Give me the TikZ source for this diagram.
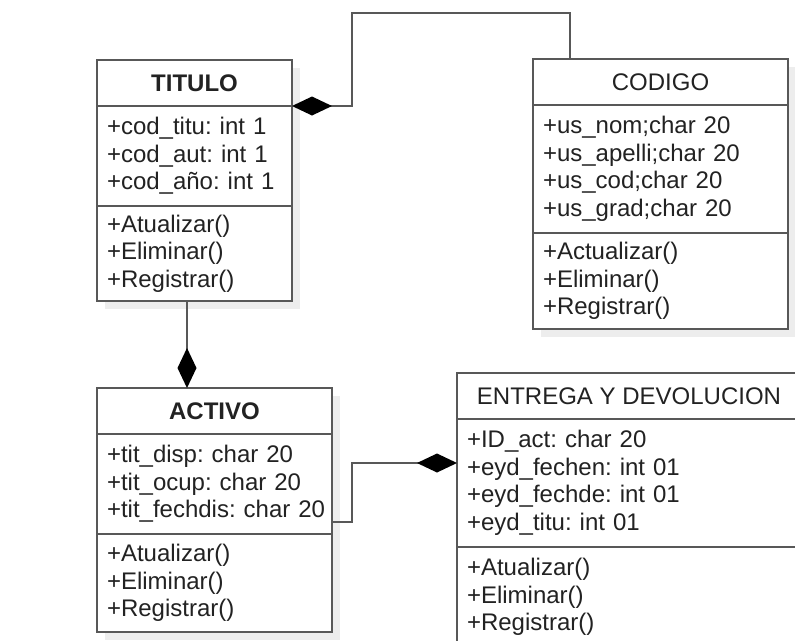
\documentclass[tikz,border=0pt]{standalone}
\usepackage{fontspec}
\setmainfont{Liberation Sans}
\frenchspacing
\usetikzlibrary{arrows.meta, positioning, calc, shadows}
\definecolor{linegray}{RGB}{88,88,88}
\definecolor{textgray}{RGB}{34,34,34}
\tikzset{
    classshadow/.style={drop shadow={shadow xshift=8pt, shadow yshift=-8pt, fill=black, opacity=0.07}},
    classhead/.style={rectangle, draw=linegray, line width=2pt, fill=white, minimum width=#1, minimum height=46pt, inner sep=0pt, outer sep=0pt, text=textgray, font=\fontsize{24}{27.5}\selectfont, classshadow},
    members/.style 2 args={rectangle, draw=linegray, line width=2pt, fill=white, text width=#1, minimum height=#2, inner xsep=10pt, inner ysep=0pt, outer sep=0pt, align=left, text=textgray, font=\fontsize{24}{27.5}\selectfont, classshadow},
    comp/.style={draw=linegray, line width=2pt, -{Diamond[length=40pt, width=19pt, color=black, fill=black]}},
}

\begin{document}
\begin{tikzpicture}[x=1pt, y=-1pt]
        \useasboundingbox (0,0) rectangle (795,640);

        % Classes
        \node [classhead=195pt, font=\fontsize{24}{27.5}\selectfont\bfseries, anchor=north west] (tituloHead) at (97,60) {TITULO};
        \node [members={175pt}{100pt}, below=0pt of tituloHead] (tituloAttr) {+cod\_titu: int 1\\+cod\_aut: int 1\\+cod\_año: int 1};
        \node [members={175pt}{95pt}, below=0pt of tituloAttr] (tituloMeth) {+Atualizar()\\+Eliminar()\\+Registrar()};

        \node [classhead=255pt, anchor=north west] (codigoHead) at (533,59) {CODIGO};
        \node [members={235pt}{128pt}, below=0pt of codigoHead] (codigoAttr) {+us\_nom;char 20\\+us\_apelli;char 20\\+us\_cod;char 20\\+us\_grad;char 20};
        \node [members={235pt}{96pt}, below=0pt of codigoAttr] (codigoMeth) {+Actualizar()\\+Eliminar()\\+Registrar()};

        \node [classhead=235pt, font=\fontsize{24}{27.5}\selectfont\bfseries, anchor=north west] (activoHead) at (97,388) {ACTIVO};
        \node [members={215pt}{100pt}, below=0pt of activoHead] (activoAttr) {+tit\_disp: char 20\\+tit\_ocup: char 20\\\mbox{+tit\_fechdis: char 20}};
        \node [members={215pt}{98pt}, below=0pt of activoAttr] (activoMeth) {+Atualizar()\\+Eliminar()\\+Registrar()};

        \node [classhead=344pt, anchor=north west] (entregaHead) at (457,373) {ENTREGA Y DEVOLUCION};
        \node [members={324pt}{128pt}, below=0pt of entregaHead] (entregaAttr) {+ID\_act: char 20\\+eyd\_fechen: int 01\\+eyd\_fechde: int 01\\+eyd\_titu: int 01};
        \node [members={324pt}{100pt}, below=0pt of entregaAttr] (entregaMeth) {+Atualizar()\\+Eliminar()\\+Registrar()};

        % Compositions
        \draw [comp] ($(codigoHead.north west)+(37,0)$) -- ++(0,-46) -| ($(tituloHead.south east)+(60,0)$) -- (tituloHead.south east);
        \draw [comp] ($(tituloMeth.south west)+(90,0)$) -- ($(activoHead.north west)+(90,0)$);
        \draw [comp] ($(activoAttr.south east)+(0,-12)$) -- ++(20,0) |- ($(entregaAttr.north west)+(0,44)$);
    \end{tikzpicture}
\end{document}
